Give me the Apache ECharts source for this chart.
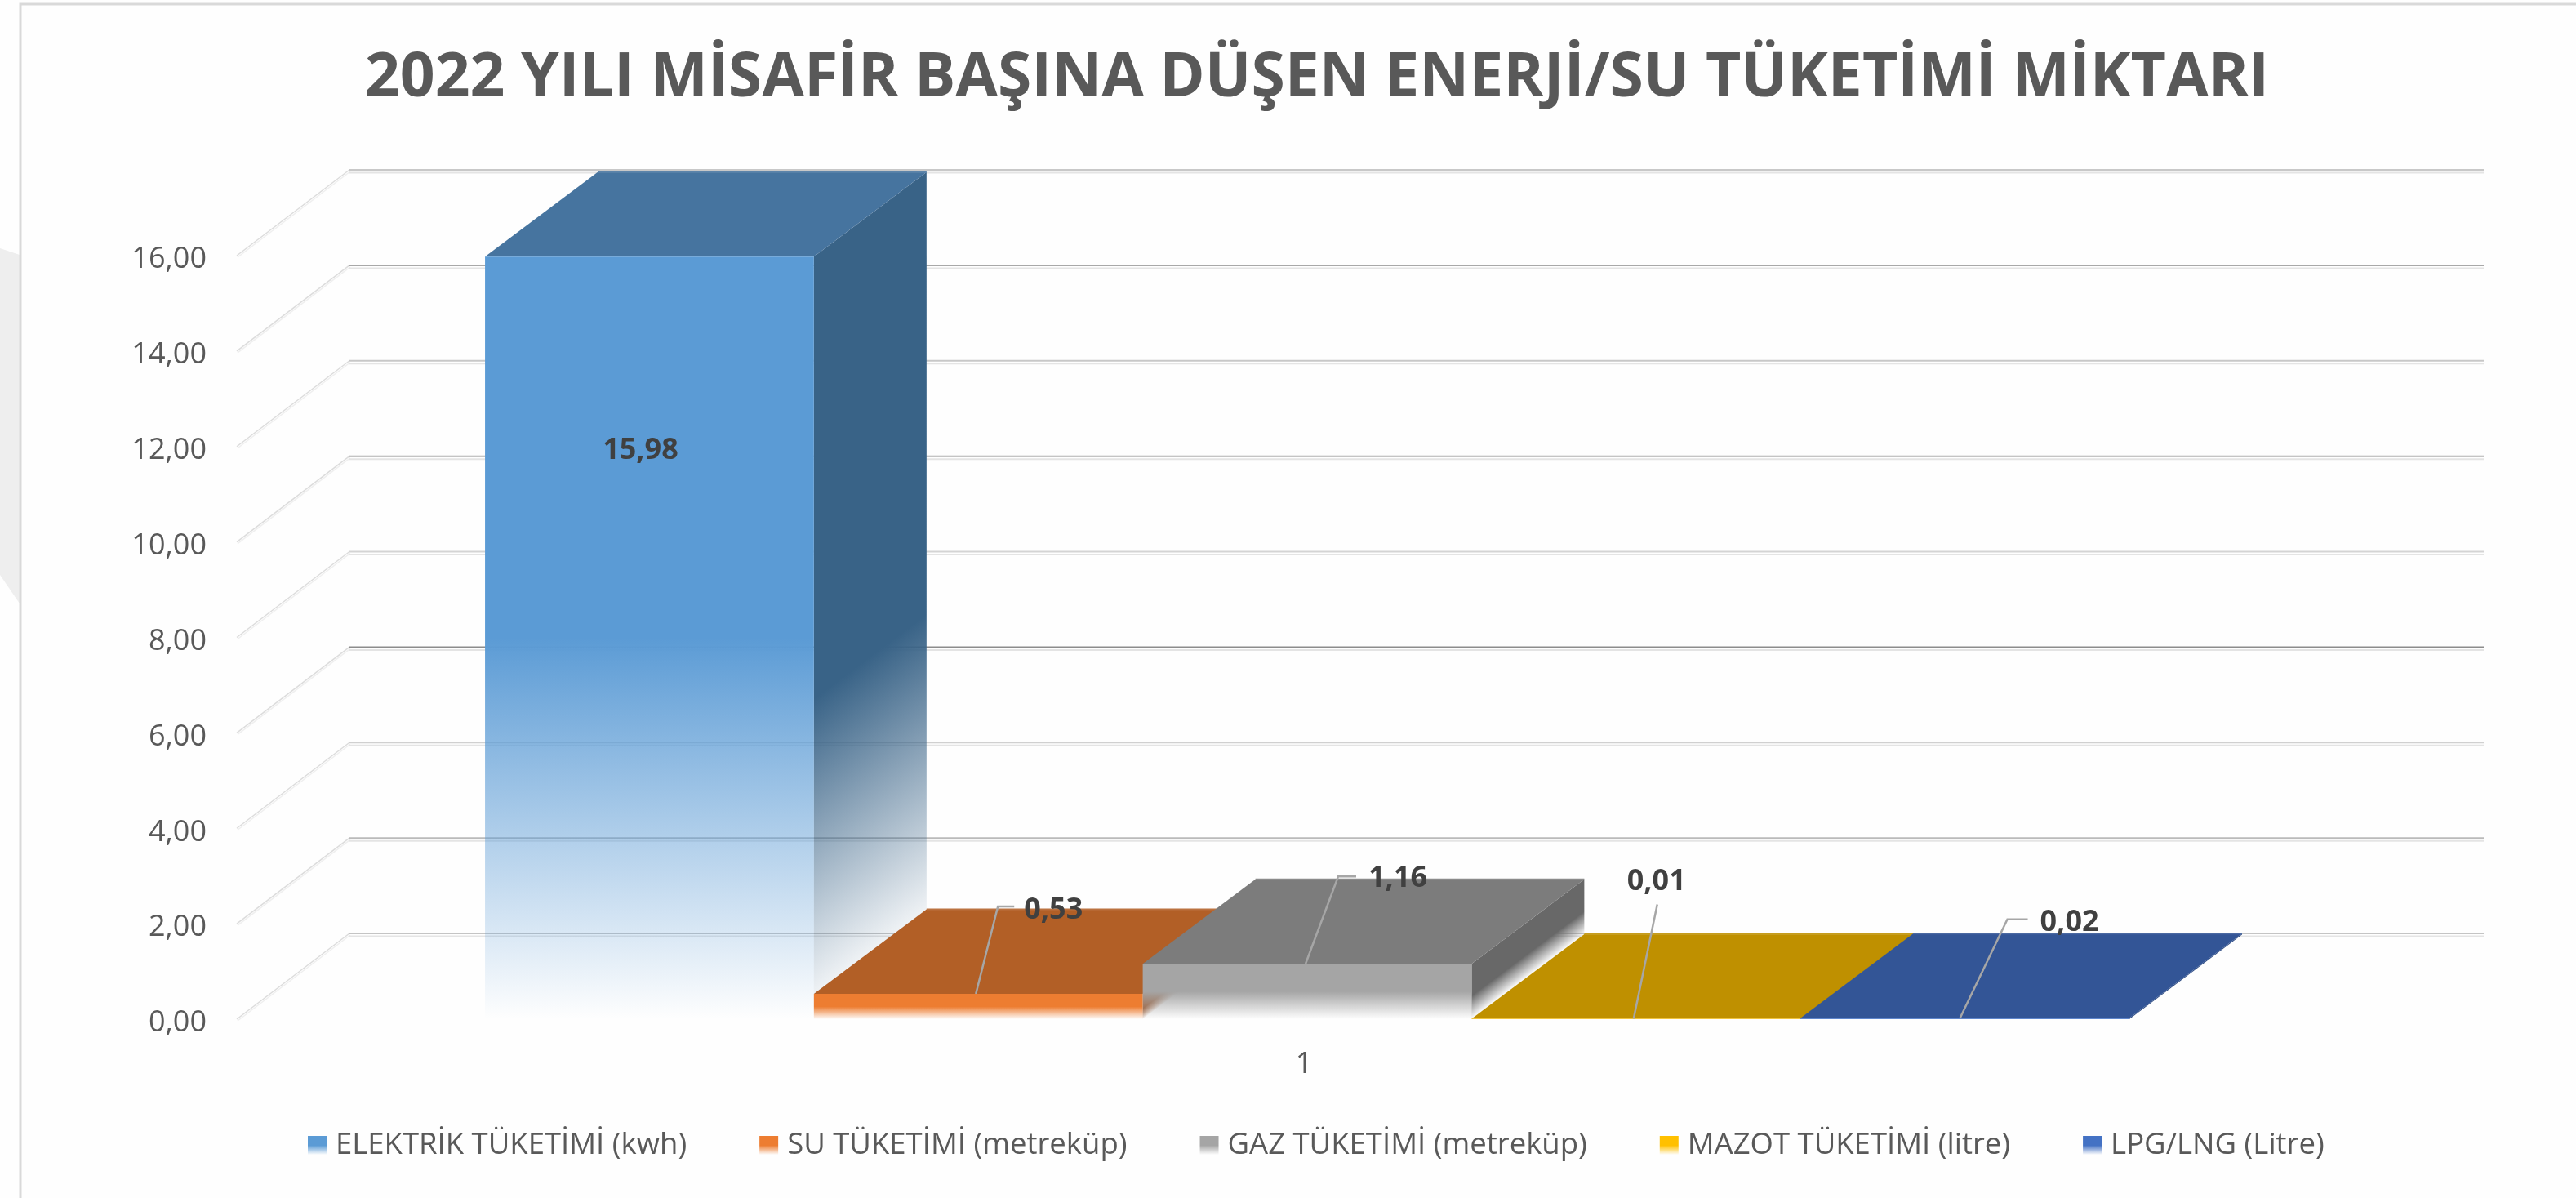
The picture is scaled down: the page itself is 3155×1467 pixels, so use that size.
<!DOCTYPE html>
<html>
<head>
<meta charset="utf-8">
<title>Misafir başına enerji/su tüketimi</title>
<script src="https://cdn.jsdelivr.net/npm/echarts@6/dist/echarts.min.js"></script>
<style>
  html, body { margin: 0; padding: 0; background: #fefefe; }
  #chart { width: 3155px; height: 1467px; }
</style>
</head>
<body>
<div id="chart"></div>
<script>
var categories = ['1'];
var yTicks = [0, 2, 4, 6, 8, 10, 12, 14, 16];
var seriesNames = [
    'ELEKTRİK TÜKETİMİ (kwh)',
    'SU TÜKETİMİ (metreküp)',
    'GAZ TÜKETİMİ (metreküp)',
    'MAZOT TÜKETİMİ (litre)',
    'LPG/LNG (Litre)'
];
var elektrik = [15.98];
var su = [0.53];
var gaz = [1.16];
var mazot = [0.01];
var lpg = [0.02];
var seriesValues = [elektrik, su, gaz, mazot, lpg];

var frontColors = ['#5b9bd5', '#ed7d31', '#a5a5a5', '#ffc000', '#4472c4'];
var topColors = ['#46749f', '#b25f26', '#7c7c7c', '#bf9000', '#335596'];
var sideColors = ['#396387', '#9c5224', '#686868', '#a67d00', '#2c4a82'];
// izgara cizgilerinin koyulugu, yTicks sirasiyla
var gridShades = ['#c4c4c4', '#bababa', '#d0d0d0', '#8c8c8c', '#d4d4d4', '#b0b0b0', '#c8c8c8', '#a8a8a8', '#c8c8c8'];

// 3B gorunum icin derinlik (piksel)
var depthX = 138;
var depthY = -103.5;
var gridDepthY = -105;
var gapWidth = 1.49;
var barShift = 4;

// etiket ve kilavuz cizgisi yerlesimi, on yuzun ust ortasina gore
var labelLayout = [
    { text: [-11, 238] },
    { start: [-3, 0], line: [[24, -107], [44, -107]], text: [92, -102] },
    { start: [-2, 0], line: [[38, -107], [60, -107]], text: [111, -104] },
    { start: [-3, 0], line: [[26, -140]], text: [25, -168] },
    { start: [-6, 0], line: [[52, -121], [77, -121]], text: [128, -117] }
];

var fontName = '"Open Sans", sans-serif';
var chart = echarts.init(document.getElementById('chart'));

function fadeStops(color, from) {
    return [
        { offset: 0, color: color },
        { offset: from, color: color },
        { offset: 1, color: echarts.color.modifyAlpha(color, 0) }
    ];
}

function barBox(api, index) {
    var catWidth = api.size([1, 0])[0];
    var barWidth = catWidth / (seriesValues.length + gapWidth);
    var center = api.coord([api.value(0), 0]);
    var top = api.coord([api.value(0), api.value(1)]);
    var left = center[0] + barShift + (index - seriesValues.length / 2) * barWidth;
    return { left: left, right: left + barWidth, top: top[1], bottom: center[1], width: barWidth };
}

function renderGrid(params, api) {
    var y = api.coord([0, api.value(0)])[1];
    var cs = params.coordSys;
    var backY = y + gridDepthY;
    var backLeft = cs.x + depthX;
    var backRight = cs.x + cs.width + depthX;
    return {
        type: 'group',
        silent: true,
        children: [
            {
                type: 'line',
                shape: { x1: cs.x, y1: y, x2: backLeft, y2: backY },
                style: { stroke: '#dcdcdc', lineWidth: 1.5 }
            },
            {
                type: 'line',
                shape: { x1: cs.x + 1, y1: y + 2, x2: backLeft + 1, y2: backY + 2 },
                style: { stroke: '#efefef', lineWidth: 1.5 }
            },
            {
                type: 'line',
                shape: { x1: backLeft, y1: backY, x2: backRight, y2: backY },
                style: { stroke: gridShades[params.dataIndex], lineWidth: 2 }
            },
            {
                type: 'line',
                shape: { x1: backLeft, y1: backY + 3.5, x2: backRight, y2: backY + 3.5 },
                style: { stroke: '#e4e4e4', lineWidth: 2 }
            }
        ]
    };
}

function renderBar(index) {
    return function (params, api) {
        var b = barBox(api, index);
        var h = b.bottom - b.top;
        var nx = -depthY, ny = depthX;
        var len = Math.sqrt(nx * nx + ny * ny);
        var span = h * ny / len;
        var sideFill = new echarts.graphic.LinearGradient(
            b.right, b.top,
            b.right + nx / len * span, b.top + ny / len * span,
            fadeStops(sideColors[index], 0.58), true);
        return {
            type: 'group',
            silent: true,
            children: [
                {
                    type: 'polygon',
                    shape: { points: [[b.right, b.top], [b.right + depthX, b.top + depthY], [b.right + depthX, b.bottom + depthY], [b.right, b.bottom]] },
                    style: { fill: h > 2 ? sideFill : sideColors[index] }
                },
                {
                    type: 'polygon',
                    shape: { points: [[b.left, b.top], [b.right, b.top], [b.right + depthX, b.top + depthY], [b.left + depthX, b.top + depthY]] },
                    style: { fill: topColors[index] }
                },
                {
                    type: 'line',
                    shape: { x1: b.left + depthX, y1: b.top + depthY, x2: b.right + depthX, y2: b.top + depthY },
                    style: { stroke: echarts.color.lift(topColors[index], 0.12), lineWidth: 2 }
                },
                {
                    type: 'rect',
                    shape: { x: b.left, y: b.top, width: b.width, height: h },
                    style: { fill: new echarts.graphic.LinearGradient(0, 0, 0, 1, fadeStops(frontColors[index], 0.5)) }
                }
            ]
        };
    };
}

function renderLabel(index) {
    return function (params, api) {
        var b = barBox(api, index);
        var cx = (b.left + b.right) / 2;
        var layout = labelLayout[index];
        var children = [];
        if (layout.line) {
            var pts = [[cx + layout.start[0], b.top + layout.start[1]]];
            layout.line.forEach(function (p) { pts.push([cx + p[0], b.top + p[1]]); });
            children.push({
                type: 'polyline',
                shape: { points: pts },
                style: { stroke: '#a6a6a6', lineWidth: 2.5, fill: null }
            });
        }
        children.push({
            type: 'text',
            x: cx + layout.text[0],
            y: b.top + layout.text[1],
            style: {
                text: api.value(1).toFixed(2).replace('.', ','),
                font: 'bold 36px ' + fontName,
                fill: '#404040',
                align: 'center',
                verticalAlign: 'middle'
            }
        });
        return { type: 'group', silent: true, children: children };
    };
}

function seriesData(values) {
    return categories.map(function (c, i) { return [i, values[i]]; });
}

var series = [{
    name: 'grid',
    type: 'custom',
    coordinateSystem: 'cartesian2d',
    data: yTicks.map(function (v) { return [v]; }),
    encode: { y: 0 },
    renderItem: renderGrid
}];

seriesNames.forEach(function (name, i) {
    series.push({
        name: name,
        type: 'custom',
        coordinateSystem: 'cartesian2d',
        data: seriesData(seriesValues[i]),
        encode: { x: 0, y: 1 },
        itemStyle: { color: frontColors[i] },
        renderItem: renderBar(i)
    });
});
seriesNames.forEach(function (name, i) {
    series.push({
        name: name + ' etiket',
        type: 'custom',
        coordinateSystem: 'cartesian2d',
        data: seriesData(seriesValues[i]),
        encode: { x: 0, y: 1 },
        renderItem: renderLabel(i)
    });
});

var option = {
    animation: false,
    backgroundColor: '#fefefe',
    title: {
        text: '2022 YILI MİSAFİR BAŞINA DÜŞEN ENERJİ/SU TÜKETİMİ MİKTARI',
        left: 1608,
        top: 54,
        textAlign: 'center',
        textStyle: { fontFamily: fontName, fontWeight: 'bold', fontSize: 75, color: '#595959' }
    },
    legend: {
        left: 372,
        top: 1379,
        itemWidth: 23,
        itemHeight: 23,
        itemGap: 89,
        icon: 'rect',
        textStyle: { fontFamily: fontName, fontSize: 36.5, color: '#595959', padding: [0, 0, 0, 6] },
        data: seriesNames.map(function (name, i) {
            return {
                name: name,
                itemStyle: { color: new echarts.graphic.LinearGradient(0, 0, 0, 1, fadeStops(frontColors[i], 0.5)) }
            };
        })
    },
    grid: { left: 290, right: 251, top: 313, bottom: 219 },
    xAxis: {
        type: 'category',
        data: categories,
        axisLine: { show: false },
        axisTick: { show: false },
        axisLabel: { margin: 38, fontFamily: fontName, fontSize: 36, color: '#595959' }
    },
    yAxis: {
        type: 'value',
        min: 0,
        max: 16,
        interval: 2,
        axisLine: { show: false },
        axisTick: { show: false },
        splitLine: { show: false },
        axisLabel: {
            margin: 37,
            verticalAlign: 'top',
            lineHeight: 10,
            fontFamily: fontName,
            fontSize: 36,
            color: '#595959',
            formatter: function (v) { return v.toFixed(2).replace('.', ','); }
        }
    },
    graphic: [
        {
            type: 'polygon',
            silent: true,
            shape: { points: [[0, 304], [24, 312], [24, 739], [0, 704]] },
            style: { fill: '#eeeeee' }
        },
        {
            type: 'polyline',
            silent: true,
            shape: { points: [[25, 1467], [25, 5], [3155, 5]] },
            style: { stroke: '#d9d9d9', lineWidth: 3, fill: null }
        }
    ],
    series: series
};
chart.setOption(option);
</script>
</body>
</html>
